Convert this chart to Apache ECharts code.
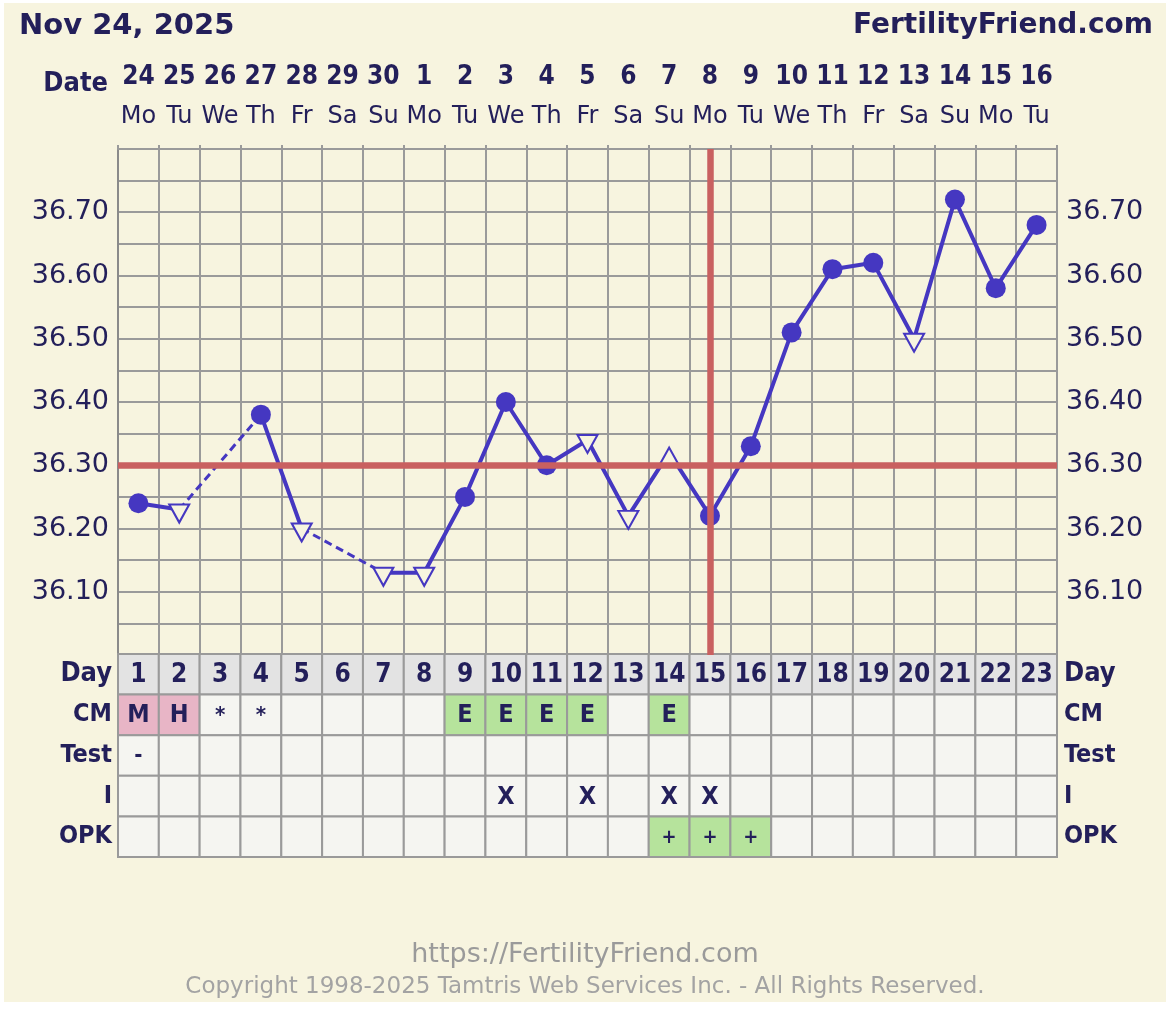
<!DOCTYPE html>
<html><head><meta charset="utf-8">
<script src="https://cdn.jsdelivr.net/npm/echarts@6/dist/echarts.min.js"></script>
<style>
html,body{margin:0;padding:0;background:#ffffff;}
#panel{position:absolute;left:4px;top:3px;width:1162px;height:999px;background:#f7f4df;}
#chart{position:absolute;left:0;top:0;width:1170px;height:1023px;}
</style></head><body>
<div id="panel"></div><div id="chart"></div>
<script>
// ---------- data ----------
const dates = ['24','25','26','27','28','29','30','1','2','3','4','5','6','7','8','9','10','11','12','13','14','15','16'];
const weekdays = ['Mo','Tu','We','Th','Fr','Sa','Su','Mo','Tu','We','Th','Fr','Sa','Su','Mo','Tu','We','Th','Fr','Sa','Su','Mo','Tu'];
const cycleDays = ['1','2','3','4','5','6','7','8','9','10','11','12','13','14','15','16','17','18','19','20','21','22','23'];
const temps = [36.24,36.23,null,36.38,36.20,null,36.13,36.13,36.25,36.40,36.30,36.34,36.22,36.32,36.22,36.33,36.51,36.61,36.62,36.50,36.72,36.58,36.68];
const markers = ['dot','down',null,'dot','down',null,'down','down','dot','dot','dot','down','down','up','dot','dot','dot','dot','dot','down','dot','dot','dot'];
const coverline = 36.30;
const ovulationDay = '15';
const yTicks = ['36.10','36.20','36.30','36.40','36.50','36.60','36.70'];
const rowNames = ['Day','CM','Test','I','OPK'];
const cmValues = ['M','H','*','*','','','','','E','E','E','E','','E','','','','','','','','',''];
const testValues = ['-','','','','','','','','','','','','','','','','','','','','','',''];
const intercourse = ['','','','','','','','','','X','','X','','X','X','','','','','','','',''];
const opkValues = ['','','','','','','','','','','','','','+','+','+','','','','','','',''];

// ---------- styles ----------
const NAVY = '#231f5a', BLUE = '#4537c1', RED = '#c96060', GRIDC = '#9a9a9a', CREAM = '#f7f4df';
const COND = '"DejaVu Sans Condensed", "DejaVu Sans"';
const highlight = { 'M': '#e8b5c6', 'H': '#e8b5c6', 'E': '#b6e39c', '+': '#b6e39c' };

const chart = echarts.init(document.getElementById('chart'), null, { renderer: 'canvas' });

const lineData = temps.map((t, i) => {
  if (t === null) return '-';
  const m = markers[i];
  if (m === 'dot') return { value: t, symbol: 'circle', symbolSize: 20, itemStyle: { color: BLUE } };
  return {
    value: t, symbol: 'triangle', symbolRotate: m === 'down' ? 180 : 0,
    symbolSize: [20, 18], symbolOffset: [0, 4],
    itemStyle: { color: CREAM, borderColor: BLUE, borderWidth: 2 }
  };
});

const gapSeries = [];
for (let i = 0; i < temps.length; i++) {
  if (temps[i] !== null) continue;
  if (i > 0 && temps[i - 1] === null) continue;
  let a = i - 1; while (a >= 0 && temps[a] === null) a--;
  let b = i + 1; while (b < temps.length && temps[b] === null) b++;
  if (a < 0 || b >= temps.length) continue;
  gapSeries.push({
    type: 'line', xAxisIndex: 0, yAxisIndex: 0, z: 2, silent: true,
    data: temps.map((t, k) => (k === a || k === b) ? t : '-'),
    connectNulls: true, symbol: 'none',
    lineStyle: { color: BLUE, width: 3, type: [8, 5] }
  });
}

const rowValues = [cycleDays, cmValues, testValues, intercourse, opkValues];
const cells = [];
rowValues.forEach((vals, r) => vals.forEach((txt, c) => cells.push({ x: c, y: r, text: txt })));

function cellFont(r, t) {
  if (r === 0) return 26;
  if (t === '+') return 20;
  if (t === '*' || t === '-') return 22;
  return 25;
}

const yLabelFmt = v => { const s = v.toFixed(2); return yTicks.includes(s) ? s : ''; };

const option = {
  animation: false,
  backgroundColor: 'transparent',
  title: [
    { text: 'Nov 24, 2025', left: 19, top: 12, padding: 0,
      textStyle: { fontFamily: 'DejaVu Sans', fontWeight: 'bold', fontSize: 29, color: NAVY } },
    { text: 'FertilityFriend.com', right: 17, top: 12, padding: 0,
      textStyle: { fontFamily: 'DejaVu Sans', fontWeight: 'bold', fontSize: 28, color: NAVY } },
    { text: 'https://FertilityFriend.com', left: 'center', top: 941, padding: 0,
      textStyle: { fontFamily: 'DejaVu Sans', fontWeight: 'normal', fontSize: 27, color: '#9a9a9a' } },
    { text: 'Copyright 1998-2025 Tamtris Web Services Inc. - All Rights Reserved.', left: 'center', top: 976, padding: 0,
      textStyle: { fontFamily: 'DejaVu Sans', fontWeight: 'normal', fontSize: 23, color: '#a3a3a3' } }
  ],
  graphic: [
    { type: 'text', x: 108, y: 84,
      style: { text: 'Date', align: 'right', verticalAlign: 'middle', fontFamily: COND, fontWeight: 'bold', fontSize: 27, fill: NAVY } }
  ],
  grid: [
    { left: 118, top: 149, width: 939, height: 506 },
    { left: 118, top: 654, width: 939, height: 203 }
  ],
  xAxis: [
    { type: 'category', gridIndex: 0, position: 'top', data: cycleDays, boundaryGap: true,
      axisLine: { show: true, lineStyle: { color: GRIDC, width: 2 } },
      axisTick: { show: true, length: 4, interval: 0, lineStyle: { color: GRIDC, width: 2 } },
      splitLine: { show: true, interval: 0, lineStyle: { color: GRIDC, width: 2 } },
      axisLabel: {
        interval: 0, margin: 12,
        formatter: (v, i) => '{d|' + dates[i] + '}\n{w|' + weekdays[i] + '}',
        rich: {
          d: { fontFamily: COND, fontWeight: 'bold', fontSize: 26, color: NAVY, lineHeight: 40 },
          w: { fontFamily: 'DejaVu Sans', fontSize: 24, color: NAVY, lineHeight: 40 }
        }
      }
    },
    { type: 'category', gridIndex: 1, data: cycleDays, show: false }
  ],
  yAxis: [
    { type: 'value', gridIndex: 0, min: 36.0, max: 36.8, interval: 0.05, position: 'left',
      axisLine: { show: true, lineStyle: { color: '#8a8a8a', width: 2 } },
      axisTick: { show: false },
      splitLine: { show: true, lineStyle: { color: GRIDC, width: 2 } },
      axisLabel: { formatter: yLabelFmt, margin: 9, fontFamily: 'DejaVu Sans', fontSize: 27, color: NAVY }
    },
    { type: 'value', gridIndex: 0, min: 36.0, max: 36.8, interval: 0.05, position: 'right',
      axisLine: { show: true, lineStyle: { color: GRIDC, width: 2 } },
      axisTick: { show: false },
      splitLine: { show: false },
      axisLabel: { formatter: yLabelFmt, margin: 9, fontFamily: 'DejaVu Sans', fontSize: 27, color: NAVY }
    },
    { type: 'category', gridIndex: 1, data: rowNames, inverse: true, position: 'left',
      axisLine: { show: false }, axisTick: { show: false }, splitLine: { show: false },
      axisLabel: { margin: 6, formatter: v => v === 'Day' ? '{a|Day}' : '{b|' + v + '}',
        rich: { a: { fontFamily: COND, fontWeight: 'bold', fontSize: 27, color: NAVY },
                b: { fontFamily: COND, fontWeight: 'bold', fontSize: 25, color: NAVY } } }
    },
    { type: 'category', gridIndex: 1, data: rowNames, inverse: true, position: 'right',
      axisLine: { show: false }, axisTick: { show: false }, splitLine: { show: false },
      axisLabel: { margin: 7, formatter: v => v === 'Day' ? '{a|Day}' : '{b|' + v + '}',
        rich: { a: { fontFamily: COND, fontWeight: 'bold', fontSize: 27, color: NAVY },
                b: { fontFamily: COND, fontWeight: 'bold', fontSize: 25, color: NAVY } } }
    }
  ],
  series: [
    { type: 'line', xAxisIndex: 0, yAxisIndex: 0, data: [], z: 1, silent: true,
      markLine: {
        silent: true, symbol: ['none', 'none'], label: { show: false },
        lineStyle: { color: RED, width: 6.5, type: 'solid' },
        emphasis: { disabled: true },
        data: [{ yAxis: coverline }, { xAxis: ovulationDay }]
      }
    },
    ...gapSeries,
    { type: 'line', xAxisIndex: 0, yAxisIndex: 0, z: 3, data: lineData, connectNulls: false,
      showAllSymbol: true, lineStyle: { color: BLUE, width: 4 }, itemStyle: { color: BLUE } },
    { type: 'custom', xAxisIndex: 1, yAxisIndex: 2, silent: true,
      data: cells.map(c => [c.x, c.y]),
      renderItem: (params, api) => {
        const cell = cells[params.dataIndex];
        const p = api.coord([api.value(0), api.value(1)]);
        const s = api.size([1, 1]);
        const fill = cell.y === 0 ? '#e3e3e3' : (highlight[cell.text] || '#f5f5f1');
        return { type: 'group', children: [
          { type: 'rect', shape: { x: p[0] - s[0] / 2, y: p[1] - s[1] / 2, width: s[0], height: s[1] },
            style: { fill: fill, stroke: GRIDC, lineWidth: 2 } },
          { type: 'text', style: { text: cell.text, x: p[0], y: p[1] + 1, align: 'center', verticalAlign: 'middle',
            fontFamily: COND, fontWeight: 'bold', fontSize: cellFont(cell.y, cell.text), fill: NAVY } }
        ] };
      }
    }
  ]
};
chart.setOption(option);
</script>
</body></html>
